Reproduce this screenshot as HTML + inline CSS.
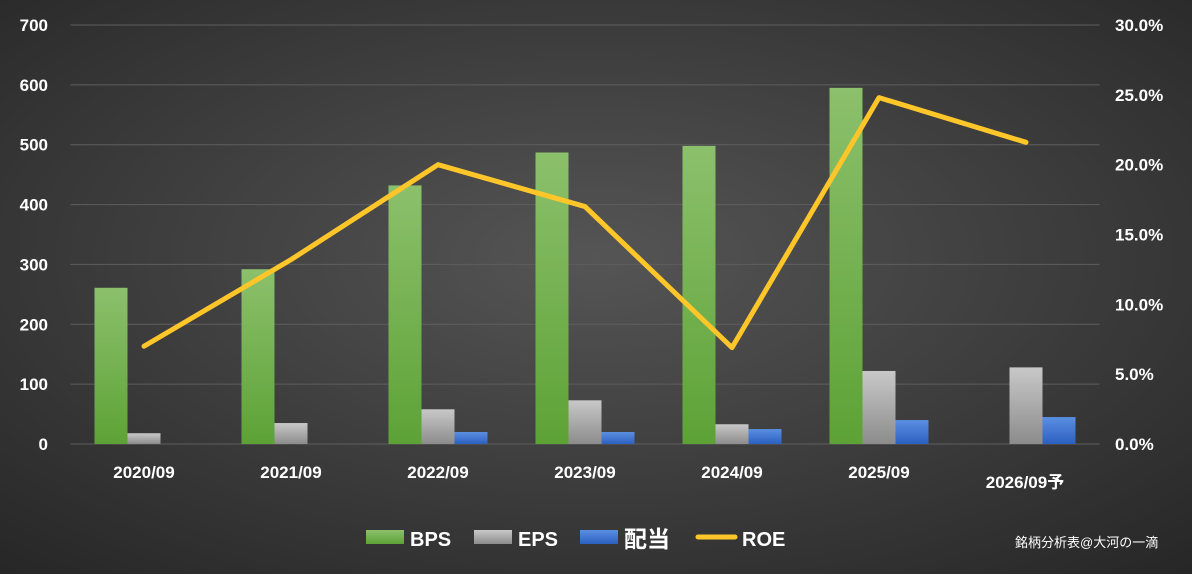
<!DOCTYPE html>
<html><head><meta charset="utf-8">
<style>
html,body{margin:0;padding:0;width:1192px;height:574px;overflow:hidden;background:#333;}
svg text{font-family:"Liberation Sans","Noto Sans CJK JP",sans-serif;fill:#fff;font-weight:bold;}
</style></head>
<body>
<svg id="chart" width="1192" height="574" xmlns="http://www.w3.org/2000/svg">
<defs>
<radialGradient id="bg" cx="0.5" cy="0.45" r="0.75">
<stop offset="0" stop-color="#555"/><stop offset="1" stop-color="#262626"/>
</radialGradient>
<linearGradient id="gG" x1="0" y1="0" x2="0" y2="1"><stop offset="0" stop-color="#8cc06c"/><stop offset="1" stop-color="#5da236"/></linearGradient>
<linearGradient id="gS" x1="0" y1="0" x2="0" y2="1"><stop offset="0" stop-color="#c8c8c8"/><stop offset="1" stop-color="#8c8c8c"/></linearGradient>
<linearGradient id="gB" x1="0" y1="0" x2="0" y2="1"><stop offset="0" stop-color="#5b8fe2"/><stop offset="1" stop-color="#2c60c0"/></linearGradient>
</defs>
<rect width="1192" height="574" fill="url(#bg)"/>
<g id="grid"></g><g id="bars"></g><g id="line"></g><g id="labels"></g>
<g>
<rect x="366" y="530" width="38" height="14" fill="url(#gG)"/>
<text x="410" y="546" font-size="20">BPS</text>
<rect x="474" y="530" width="38" height="14" fill="url(#gS)"/>
<text x="518" y="546" font-size="20">EPS</text>
<rect x="580" y="530" width="38" height="14" fill="url(#gB)"/>
<text x="624" y="547" font-size="23">配当</text>
<line x1="698" y1="537" x2="735" y2="537" stroke="#ffc62a" stroke-width="5" stroke-linecap="round"/>
<text x="742" y="546" font-size="20">ROE</text>
</g>
<text x="1015" y="547" font-size="13" style="font-weight:normal">銘柄分析表@大河の一滴</text>
</svg>
<script>
const categories=["2020/09","2021/09","2022/09","2023/09","2024/09","2025/09","2026/09予"];
const bps=[261,292,432,487,498,595,0];
const eps=[18,35,58,73,33,122,128];
const dividend=[0,0,20,20,25,40,45];
const roe=[7.0,13.2,20.0,17.0,6.9,24.8,21.6];
const leftTicks=[0,100,200,300,400,500,600,700];
const rightTicks=["0.0%","5.0%","10.0%","15.0%","20.0%","25.0%","30.0%"];
const NS="http://www.w3.org/2000/svg";
const x0=70.5,x1=1099.5,yT=25,yB=444;
const step=(x1-x0)/categories.length;
const cx=i=>x0+step*(i+0.5);
const yL=v=>yB-(v/700)*(yB-yT);
const yR=v=>yB-(v/30)*(yB-yT);
function mk(tag,attrs,parent){const e=document.createElementNS(NS,tag);for(const k in attrs)e.setAttribute(k,attrs[k]);document.getElementById(parent).appendChild(e);return e;}
leftTicks.forEach((t,i)=>{
 const g=mk('line',{x1:x0,x2:x1,y1:yL(t),y2:yL(t),stroke:'#5e5e5e','stroke-width':1},'grid');
 
 
 const l=mk('text',{x:48,y:yL(t)+6,'text-anchor':'end','font-size':17},'labels');
 l.textContent=t;
 
 
});
rightTicks.forEach((t,i)=>{
 const l=mk('text',{x:1115,y:yR(i*5)+6,'font-size':17},'labels');
 l.textContent=t;
 
 
});
const bw=33;
categories.forEach((c,i)=>{
 const s=[[bps,'url(#gG)','bar-bps'],[eps,'url(#gS)','bar-eps'],[dividend,'url(#gB)','bar-dividend']];
 s.forEach((d,j)=>{
  const v=d[0][i];if(!v)return;
  const r=mk('rect',{x:cx(i)-1.5*bw+j*bw,y:yL(v),width:bw,height:yB-yL(v),fill:d[1]},'bars');
  
  
 });
 const last=i===categories.length-1;
 const l=mk('text',{x:cx(i)+(last?-1:0),y:last?488:478,'text-anchor':'middle','font-size':17},'labels');
 l.textContent=c;
 
 
});
const p=mk('polyline',{points:roe.map((v,i)=>cx(i)+','+yR(v)).join(' '),fill:'none',stroke:'#ffc62a','stroke-width':5,'stroke-linejoin':'round','stroke-linecap':'round'},'line');


</script>
</body></html>
